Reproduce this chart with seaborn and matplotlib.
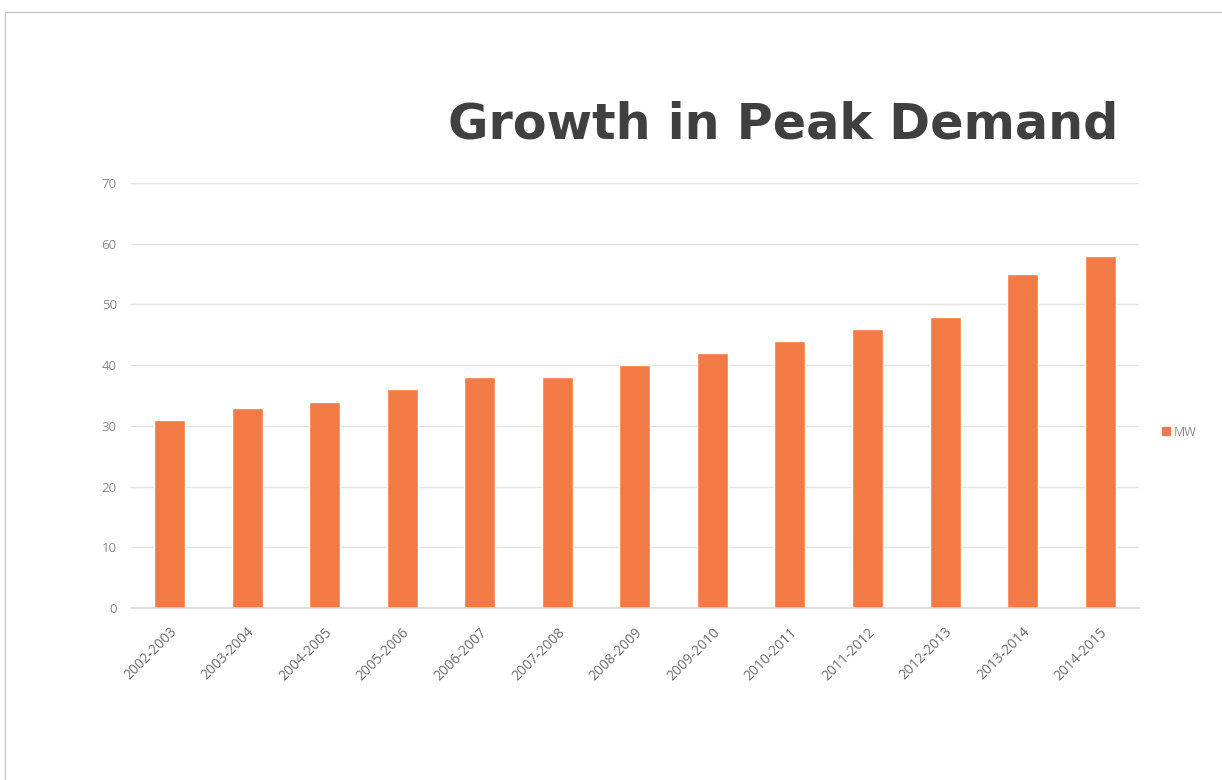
import matplotlib
matplotlib.use("Agg")
import matplotlib.pyplot as plt
import seaborn as sns
import pandas as pd
from matplotlib.patches import Rectangle, Patch

years = ["2002-2003", "2003-2004", "2004-2005", "2005-2006", "2006-2007",
         "2007-2008", "2008-2009", "2009-2010", "2010-2011", "2011-2012",
         "2012-2013", "2013-2014", "2014-2015"]
mw = [31, 33, 34, 36, 38, 38, 40, 42, 44, 46, 48, 55, 58]
yticks = [0, 10, 20, 30, 40, 50, 60, 70]

df = pd.DataFrame({"year": years, "MW": mw})

sns.set_theme(style="white")
plt.rcParams['font.family'] = ['Open Sans', 'DejaVu Sans']

fig = plt.figure(figsize=(12.22, 7.8), dpi=100)
ax = fig.add_axes([0.107, 0.2205, 0.825, 0.5449])

bar_color = "#F27B45"
sns.barplot(data=df, x="year", y="MW", color=bar_color, width=0.4, ax=ax,
            saturation=1)

ax.set_ylim(0, 70)
ax.set_yticks(yticks)
ax.set_yticklabels([str(t) for t in yticks], color="#8a8a8a", fontsize=9.5)
ax.set_xticks(range(len(years)))
ax.set_xticklabels(years, rotation=45, ha="right", rotation_mode="anchor",
                   color="#6f6f6f", fontsize=10)
ax.tick_params(axis="both", length=0, pad=10)
ax.tick_params(axis="x", pad=12)
ax.set_xlabel("")
ax.set_ylabel("")
ax.yaxis.grid(True, color="#e4e4e4", linewidth=1)
ax.set_axisbelow(True)
for s in ["top", "right", "left"]:
    ax.spines[s].set_visible(False)
ax.spines["bottom"].set_color("#d9d9d9")
ax.set_xlim(-0.5, len(years) - 0.5)

leg = fig.legend(handles=[Patch(color=bar_color, label="MW")],
                 loc="center left", bbox_to_anchor=(0.942, 0.446),
                 frameon=False, fontsize=9, handlelength=0.6,
                 handleheight=0.6, handletextpad=0.3)
for t in leg.get_texts():
    t.set_color("#8a8a8a")

fig.text(0.6405, 0.84, "Growth in Peak Demand", ha="center", va="center",
         fontsize=35.5, fontweight="bold", color="#404040", family=["DejaVu Sans"])

# thin frame lines at top and left
fig.add_artist(Rectangle((0.004, -0.01), 1.1, 0.995, transform=fig.transFigure,
                         fill=False, edgecolor="#c8c8c8", linewidth=1))

fig.savefig("out.png", dpi=100, facecolor="white")
